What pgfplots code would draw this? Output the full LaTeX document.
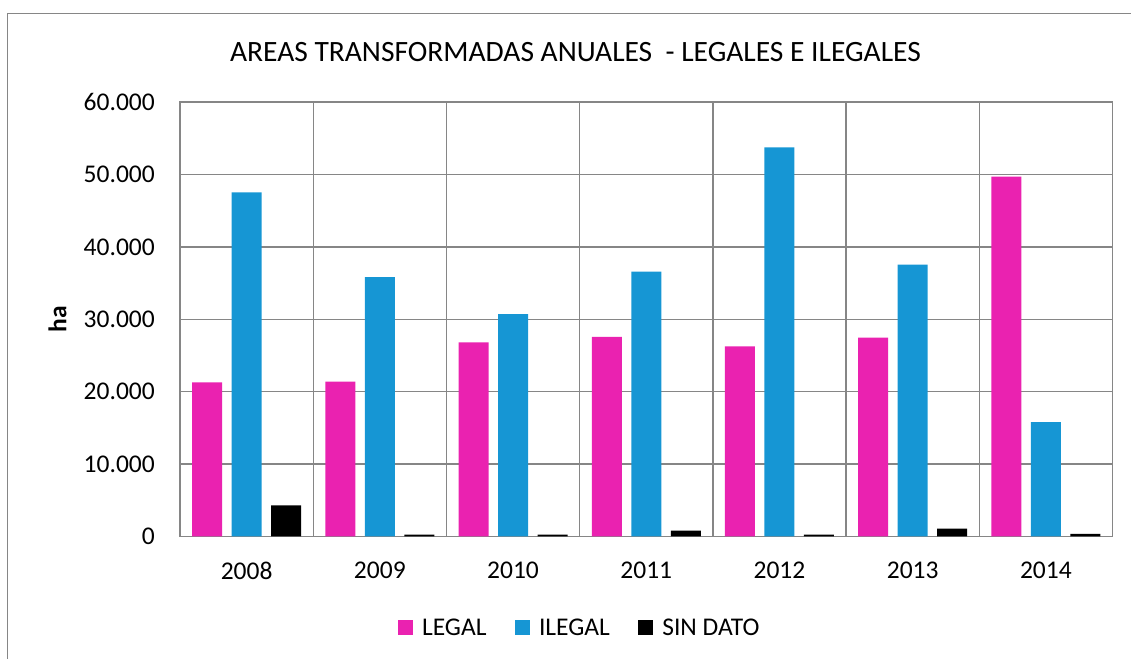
\documentclass[border=0pt]{standalone}
\usepackage{fontspec}
\setmainfont{Carlito}
\usepackage{pgfplots}
\pgfplotsset{compat=1.18}
\definecolor{legalc}{RGB}{234,34,176}
\definecolor{ilegalc}{RGB}{22,150,212}
\definecolor{gridc}{RGB}{134,134,134}
\begin{document}
\begin{tikzpicture}[x=1bp,y=1bp]
\useasboundingbox (0,0) rectangle (1131,659);
\draw[gridc, line width=1.3bp] (7.5,-2) -- (7.5,645.7) -- (1135,645.7);
\begin{axis}[
  at={(180bp,122.5bp)}, anchor=south west,
  scale only axis, width=932.5bp, height=434.4bp,
  ybar=9.5bp, bar width=30bp,
  xmin=-0.5, xmax=6.5, ymin=0, ymax=60000,
  xtick={0,1,2,3,4,5,6},
  xticklabels={2008,2009,2010,2011,2012,2013,2014},
  minor xtick={0.5,1.5,2.5,3.5,4.5,5.5},
  xminorgrids=true, ymajorgrids=true, xmajorgrids=false,
  major tick length=0pt, minor tick length=0pt,
  axis line style={gridc, line width=1.4bp},
  grid style={gridc, line width=1.4bp},
  minor grid style={gridc, line width=1.4bp},
  ytick={0,10000,20000,30000,40000,50000,60000},
  scaled y ticks=false,
  /pgf/number format/.cd, 1000 sep={.}, assume math mode=true, /pgfplots/.cd,
  tick label style={font=\fontsize{25.5bp}{30bp}\selectfont, inner sep=0pt},
  yticklabel style={anchor=east, xshift=-25bp},
  xticklabel style={anchor=north, yshift=-25bp},
  every axis y label/.style={at={(axis description cs:-0.1314,0.5)}, rotate=90, anchor=center, font=\fontsize{25.5bp}{30bp}\selectfont\bfseries},
  ylabel={ha},
  title={AREAS TRANSFORMADAS ANUALES\ \ - LEGALES E ILEGALES},
  title style={at={(axis description cs:0.4241,1.113)}, anchor=center, inner sep=0pt, yshift=-5bp, font=\fontsize{29.5bp}{34bp}\selectfont},
  legend columns=3,
  legend image code/.code={\fill[#1] (0bp,-7.5bp) rectangle (15bp,7.5bp); \path (22.5bp,0bp);},
  legend style={at={(axis description cs:0.4284,-0.2095)}, anchor=center, draw=none, fill=none,
    font=\fontsize{25.5bp}{30bp}\selectfont,
    /tikz/every even column/.append style={column sep=26bp}},
]
\addplot[fill=legalc, draw=none] coordinates {(0,21300) (1,21380) (2,26820) (3,27560) (4,26270) (5,27460) (6,49700)};
\addplot[fill=ilegalc, draw=none] coordinates {(0,47540) (1,35840) (2,30730) (3,36570) (4,53760) (5,37540) (6,15800)};
\addplot[fill=black, draw=none] coordinates {(0,4300) (1,250) (2,250) (3,800) (4,250) (5,1100) (6,350)};
\legend{LEGAL, ILEGAL, SIN DATO}
\end{axis}
\end{tikzpicture}
\end{document}
